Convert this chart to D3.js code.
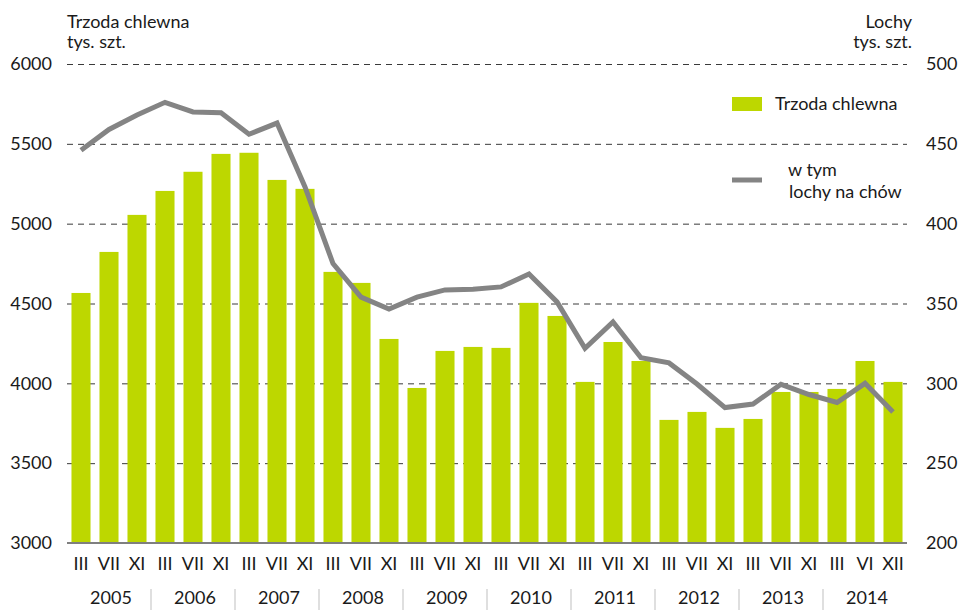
<!DOCTYPE html>
<html><head><meta charset="utf-8">
<script src="https://cdn.jsdelivr.net/npm/d3@7"></script>
<style>
body{margin:0;background:#fff;}
text{font-family:Lato,"Open Sans",sans-serif;fill:#1a1a1a;}
</style></head>
<body><svg id="c" width="960" height="610"></svg>
<script>
const years = ["2005","2006","2007","2008","2009","2010","2011","2012","2013","2014"];
const months = ["III","VII","XI","III","VII","XI","III","VII","XI","III","VII","XI","III","VII","XI",
                "III","VII","XI","III","VII","XI","III","VII","XI","III","VII","XI","III","VI","XII"];
const trzoda = [4566,4823,5055,5205,5325,5437,5444,5274,5218,4698,4629,4278,3971,4203,4228,
                4222,4504,4422,4009,4259,4140,3771,3821,3721,3777,3946,3946,3965,4140,4009];
const lochy = [446,459,468,476,470,469.5,456,463,423,375,354,346.6,354,358.5,359,
               360.4,368.5,351,322,338.5,316,312.8,299.6,284.8,287,299.4,293,288,300,282];
const leftTicks = [3000,3500,4000,4500,5000,5500,6000];
const rightTicks = [200,250,300,350,400,450,500];

const svg = d3.select("#c");
const L = 67, R = 907, T = 64, B = 543;
const idx = months.map((m,i)=>i);
const x = d3.scaleBand().domain(idx).range([L,R]).paddingInner(0.32).paddingOuter(0.16);
const yL = d3.scaleLinear().domain([3000,6000]).range([B,T]);
const yR = d3.scaleLinear().domain([200,500]).range([B,T]);

// grid + left axis
const gl = svg.append("g").attr("transform",`translate(${L},0)`)
  .call(d3.axisLeft(yL).tickValues(leftTicks).tickSize(-(R-L)).tickPadding(15).tickFormat(d3.format("d")));
gl.select(".domain").remove();
gl.selectAll(".tick line").attr("stroke","#3a3a3a").attr("stroke-width",1).attr("stroke-dasharray","6,5")
  .filter(d=>d===3000).remove();
gl.selectAll(".tick text").attr("font-size",18).attr("fill","#1a1a1a");

// right axis
const gr = svg.append("g").attr("transform",`translate(${R},0)`)
  .call(d3.axisRight(yR).tickValues(rightTicks).tickSize(0).tickPadding(19));
gr.select(".domain").remove();
gr.selectAll(".tick text").attr("font-size",18).attr("fill","#1a1a1a");

// bars
svg.append("g").selectAll("rect").data(trzoda).join("rect")
  .attr("x",(d,i)=>x(i)).attr("width",x.bandwidth())
  .attr("y",d=>yL(d)).attr("height",d=>yL(3000)-yL(d))
  .attr("fill","#bdd700");

// baseline
svg.append("line").attr("x1",L).attr("x2",R).attr("y1",B).attr("y2",B)
  .attr("stroke","#7f7f7f").attr("stroke-width",2);

// line
const line = d3.line().x((d,i)=>x(i)+x.bandwidth()/2).y(d=>yR(d));
svg.append("path").datum(lochy).attr("d",line).attr("fill","none")
  .attr("stroke","#848484").attr("stroke-width",5).attr("stroke-linejoin","miter");

// bottom axis months
const gb = svg.append("g").attr("transform",`translate(0,${B})`)
  .call(d3.axisBottom(x).tickSize(0).tickPadding(14).tickFormat(i=>months[i]));
gb.select(".domain").remove();
gb.selectAll(".tick text").attr("font-size",18).attr("fill","#1a1a1a");

// years
const step = x.step();
const yg = svg.append("g");
years.forEach((yr,k)=>{
  const x0 = L + k*3*step;
  yg.append("text").attr("x",x0+1.5*step+2).attr("y",604).attr("text-anchor","middle")
    .attr("font-size",18).text(yr);
  if(k>0) yg.append("line").attr("x1",x0).attr("x2",x0).attr("y1",589).attr("y2",610)
    .attr("stroke","#bfbfbf").attr("stroke-width",1);
});

// axis titles
svg.append("text").attr("x",67).attr("y",28).attr("font-size",18).text("Trzoda chlewna");
svg.append("text").attr("x",67).attr("y",48).attr("font-size",18).text("tys. szt.");
svg.append("text").attr("x",912).attr("y",28).attr("font-size",18).attr("text-anchor","end").text("Lochy");
svg.append("text").attr("x",912).attr("y",48).attr("font-size",18).attr("text-anchor","end").text("tys. szt.");

// legend
svg.append("rect").attr("x",732).attr("y",97).attr("width",30).attr("height",14).attr("fill","#bdd700");
svg.append("text").attr("x",775).attr("y",110).attr("font-size",18).text("Trzoda chlewna");
svg.append("line").attr("x1",732).attr("x2",762).attr("y1",180).attr("y2",180)
  .attr("stroke","#848484").attr("stroke-width",5);
svg.append("text").attr("x",788).attr("y",176).attr("font-size",18).text("w tym");
svg.append("text").attr("x",789).attr("y",198).attr("font-size",18).text("lochy na chów");
</script></body></html>
